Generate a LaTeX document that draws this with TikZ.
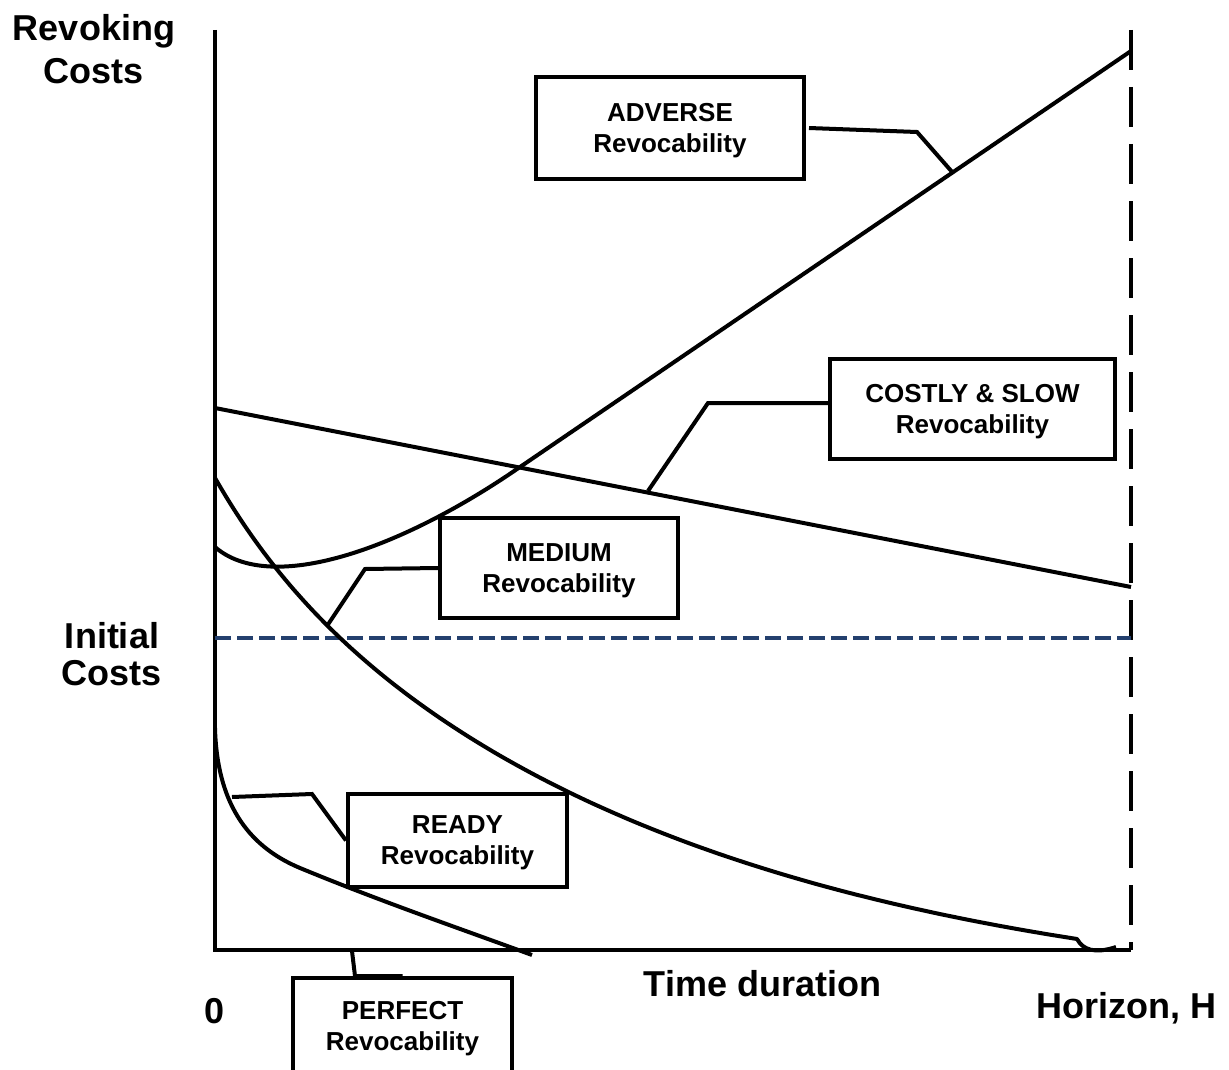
\documentclass[tikz,border=0pt]{standalone}
\usepackage{fontspec}
\setmainfont{Liberation Sans}
\definecolor{dashblue}{RGB}{36,64,110}
\begin{document}
\begin{tikzpicture}[x=1pt,y=-1pt,
  curve/.style={line width=4pt, line join=round},
  axisline/.style={line width=4.5pt},
  lbl/.style={rectangle, draw, line width=4pt, fill=white, align=center,
    font=\fontsize{26}{31}\selectfont\bfseries, inner sep=0pt, text depth=0pt},
  bigtext/.style={align=center, font=\fontsize{36}{43}\selectfont\bfseries, inner sep=0pt},
  conn/.style={line width=4pt, line join=miter}
]
\clip (0,0) rectangle (1229,1070);
\fill[white] (0,0) rectangle (1229,1070);

% axes
\coordinate (origin) at (215,950);
\coordinate (ytop) at (215,30);
\coordinate (xend) at (1131,950);
\coordinate (htop) at (1131,30);
\draw[axisline] (ytop) -- (origin) -- (xend);
\draw[axisline, dash pattern=on 40pt off 17pt] (htop) -- (xend);

% initial cost level
\coordinate (ic0) at (215,638);
\coordinate (ic1) at (1131,638);
\draw[line width=4pt, dashblue, dash pattern=on 16pt off 6pt] (ic0) -- (ic1);

% curves
% adverse
\draw[curve] (215,547) .. controls (270,595) and (400,550) .. (520,467) -- (1131,51);
% costly & slow
\draw[curve] (215,408) -- (1131,587);
% medium
\draw[curve] plot[domain=0:862, samples=90, variable=\t, smooth]
  ({215+\t},{950-(472*exp(-0.0022*\t)-60+60*exp(-0.012*\t))})
  .. controls (1083,950) and (1095,954) .. (1116,947);
% ready
\draw[curve] (215,728) .. controls (217,800) and (245,845) .. (300,868)
  .. controls (380,901) and (450,925) .. (532,955);

% label boxes
\node[lbl, minimum width=268pt, minimum height=101pt] (adverse) at (670,128) {ADVERSE\\Revocability};
\node[lbl, minimum width=285pt, minimum height=100pt] (costly) at (972.5,409) {COSTLY \& SLOW\\Revocability};
\node[lbl, minimum width=238pt, minimum height=100pt] (medium) at (559,568) {MEDIUM\\Revocability};
\node[lbl, minimum width=219pt, minimum height=93pt] (ready) at (457.5,840.5) {READY\\Revocability};
\node[lbl, minimum width=219pt, minimum height=96pt] (perfect) at (402.5,1026) {PERFECT\\Revocability};

% connectors
\coordinate (a1) at (917,132);
\coordinate (a2) at (953,173);
\draw[conn] ([xshift=3pt]adverse.east) -- (a1) -- (a2);
\coordinate (c1) at (708,403);
\coordinate (c2) at (648,491);
\draw[conn] ([yshift=6pt]costly.west) -- (c1) -- (c2);
\coordinate (m1) at (365,569);
\coordinate (m2) at (327,626);
\draw[conn] (medium.west) -- (m1) -- (m2);
\coordinate (r0) at (232,797);
\coordinate (r1) at (312,794);
\draw[conn] (r0) -- (r1) -- (ready.west);
\coordinate (p0) at (352,951);
\coordinate (p1) at (355,976);
\draw[conn] (p0) -- (p1) -- (perfect.north);

% texts
\node[bigtext, anchor=north] (ylab) at (94,14) {Revoking\\Costs};
\node[bigtext, anchor=north, font=\fontsize{36}{37}\selectfont\bfseries] (iclab) at (112,622) {Initial\\Costs};
\node[bigtext, anchor=base] (zero) at (215,1023) {0};
\node[bigtext, anchor=base] (xlab) at (762.5,996) {Time duration};
\node[bigtext, anchor=base] (hlab) at (1126.5,1018) {Horizon, H};
\end{tikzpicture}
\end{document}
